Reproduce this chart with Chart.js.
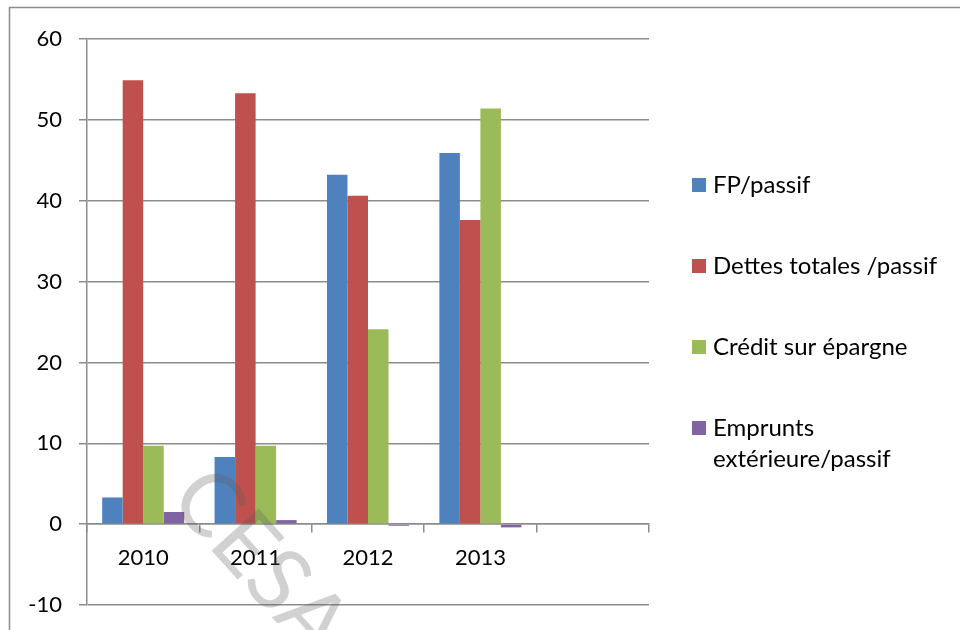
<!DOCTYPE html>
<html>
<head>
<meta charset="utf-8">
<script src="https://cdn.jsdelivr.net/npm/chart.js@4/dist/chart.umd.min.js"></script>
<style>
  html, body { margin: 0; padding: 0; background: #fff; }
  #wrap { width: 960px; height: 630px; position: relative; }
</style>
</head>
<body>
<div id="wrap"><canvas id="chart" width="960" height="630"></canvas></div>
<script>
// Ratios per year (%)
var years = ["2010", "2011", "2012", "2013", ""];
var fpPassif = [3.3, 8.3, 43.2, 45.9];
var dettesPassif = [54.9, 53.3, 40.6, 37.6];
var creditEpargne = [9.7, 9.7, 24.1, 51.4];
var empruntsPassif = [1.5, 0.5, -0.2, -0.4];

var seriesNames = [
  "FP/passif",
  "Dettes totales /passif",
  "Crédit sur épargne",
  "Emprunts extérieure/passif"
];
var seriesColors = ["#4f81bd", "#c0504d", "#9bbb59", "#8064a2"];

var FONT = "Lato, 'Open Sans', sans-serif";
var gridColor = "#8c8c8c";

// Frame round the whole chart
var framePlugin = {
  id: "frame",
  beforeDraw: function (chart) {
    var ctx = chart.ctx;
    ctx.save();
    ctx.strokeStyle = "#8c8c8c";
    ctx.lineWidth = 1.5;
    ctx.strokeRect(9.5, 7.5, 1000, 700);
    ctx.restore();
  }
};

// Legend on the right, last label wraps on two lines
var sideLegend = {
  id: "sideLegend",
  afterDraw: function (chart) {
    var ctx = chart.ctx;
    var x = 692, y = 185, step = 81, maxW = 245;
    ctx.save();
    ctx.font = "24px " + FONT;
    ctx.textBaseline = "middle";
    ctx.fillStyle = "#000";
    chart.data.datasets.forEach(function (ds, i) {
      var cy = y + i * step;
      ctx.fillStyle = ds.backgroundColor;
      ctx.fillRect(x, cy - 7, 14, 14);
      ctx.fillStyle = "#000";
      // simple word wrap
      var words = ds.label.split(" ");
      var lines = [];
      var line = "";
      words.forEach(function (w) {
        var test = line ? line + " " + w : w;
        if (ctx.measureText(test).width > maxW && line) {
          lines.push(line);
          line = w;
        } else {
          line = test;
        }
      });
      lines.push(line);
      lines.forEach(function (l, k) {
        ctx.fillText(l, x + 21, cy + k * 31);
      });
    });
    ctx.restore();
  }
};

// Faint watermark across the lower part
var watermark = {
  id: "watermark",
  afterDraw: function (chart) {
    var ctx = chart.ctx;
    ctx.save();
    ctx.translate(188, 482);
    ctx.rotate(48 * Math.PI / 180);
    ctx.font = "88px " + FONT;
    ctx.fillStyle = "rgba(90, 90, 90, 0.28)";
    ctx.textBaseline = "middle";
    ctx.fillText("CESA", 0, 0);
    ctx.restore();
  }
};

var datasets = [fpPassif, dettesPassif, creditEpargne, empruntsPassif].map(function (vals, i) {
  return {
    label: seriesNames[i],
    data: vals,
    backgroundColor: seriesColors[i],
    borderWidth: 0,
    barPercentage: 1,
    categoryPercentage: 0.73
  };
});

var ctx = document.getElementById("chart").getContext("2d");
var chart = new Chart(ctx, {
  type: "bar",
  data: { labels: years, datasets: datasets },
  options: {
    responsive: false,
    animation: false,
    layout: { padding: { left: 0, right: 311, top: 39, bottom: 25 } },
    plugins: {
      legend: { display: false },
      tooltip: { enabled: false }
    },
    scales: {
      x: {
        position: { y: 0 },
        // the axis sits on the zero line, so it takes no room below the plot
        afterFit: function (scale) {
          scale.height = 0;
        },
        grid: {
          offset: true,
          drawOnChartArea: false,
          drawTicks: true,
          tickLength: 8,
          color: gridColor,
          lineWidth: 1.5
        },
        border: { display: true, color: gridColor, width: 1.5 },
        ticks: {
          color: "#000",
          padding: 13,
          font: { family: FONT, size: 22 }
        }
      },
      y: {
        min: -10,
        max: 60,
        afterFit: function (scale) {
          scale.width = 87;
          scale.paddingBottom = 0;
        },
        grid: {
          color: gridColor,
          lineWidth: 1.5,
          tickLength: 8
        },
        border: { display: true, color: gridColor, width: 1.5 },
        ticks: {
          stepSize: 10,
          color: "#000",
          padding: 17,
          font: { family: FONT, size: 22 }
        }
      }
    }
  },
  plugins: [framePlugin, sideLegend, watermark]
});
</script>
</body>
</html>
